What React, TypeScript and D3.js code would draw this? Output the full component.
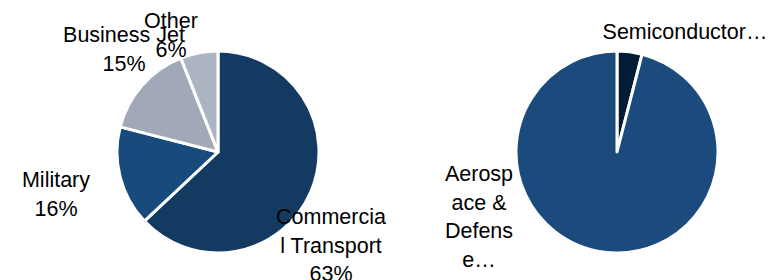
import * as d3 from "d3";
import { useEffect, useRef } from "react";

// left pie: end markets
const marketNames = ["Commercial Transport", "Military", "Business Jet", "Other"];
const marketShares = [63, 16, 15, 6];
const marketLabels = [
  ["Commercia", "l Transport", "63%"],
  ["Military", "16%"],
  ["Business Jet", "15%"],
  ["Other", "6%"],
];

// right pie: segments
const segmentNames = ["Semiconductor", "Aerospace & Defense"];
const segmentShares = [4, 96];
const segmentLabels = [["Semiconductor…"], ["Aerosp", "ace &", "Defens", "e…"]];

const W = 771;
const H = 280;
const FONT = "'Liberation Sans', Arial, sans-serif";

export default function App() {
  const svgRef = useRef<SVGSVGElement | null>(null);

  useEffect(() => {
    if (!svgRef.current) return;
    const svg = d3.select(svgRef.current);
    svg.selectAll("*").remove();

    const radius = 101;
    const lineH = 28.5;

    const drawPie = (
      cx: number,
      cy: number,
      names: string[],
      values: number[],
      colors: string[],
      labels: string[][],
      labelPos: [number, number][] // first baseline of each label
    ) => {
      const g = svg.append("g").attr("transform", `translate(${cx},${cy})`);
      const pie = d3
        .pie<number>()
        .sort(null)
        .value((d) => d);
      const arc = d3.arc<d3.PieArcDatum<number>>().innerRadius(0).outerRadius(radius);

      g.selectAll("path")
        .data(pie(values))
        .enter()
        .append("path")
        .attr("d", arc)
        .attr("fill", (_, i) => colors[i])
        .attr("stroke", "#fff")
        .attr("stroke-width", 3)
        .attr("stroke-linejoin", "round")
        .append("title")
        .text((_, i) => names[i]);

      labels.forEach((lines, i) => {
        const [lx, ly] = labelPos[i];
        const t = svg
          .append("text")
          .attr("text-anchor", "middle")
          .attr("font-family", FONT)
          .attr("font-size", 21.5)
          .attr("fill", "#000");
        lines.forEach((line, j) => {
          t.append("tspan")
            .attr("x", lx)
            .attr("y", ly + j * lineH)
            .text(line);
        });
      });
    };

    drawPie(
      218,
      152,
      marketNames,
      marketShares,
      ["#133b62", "#184a7c", "#a1a8b7", "#adb4c1"],
      marketLabels,
      [
        [331, 224],
        [56, 187],
        [124, 42],
        [171, 28],
      ]
    );

    drawPie(
      617,
      152,
      segmentNames,
      segmentShares,
      ["#031c36", "#1a4b7c"],
      segmentLabels,
      [
        [685, 39],
        [479, 181],
      ]
    );
  }, []);

  return (
    <svg
      ref={svgRef}
      width={W}
      height={H}
      style={{ position: "absolute", left: 0, top: 0, background: "#fff" }}
    />
  );
}
